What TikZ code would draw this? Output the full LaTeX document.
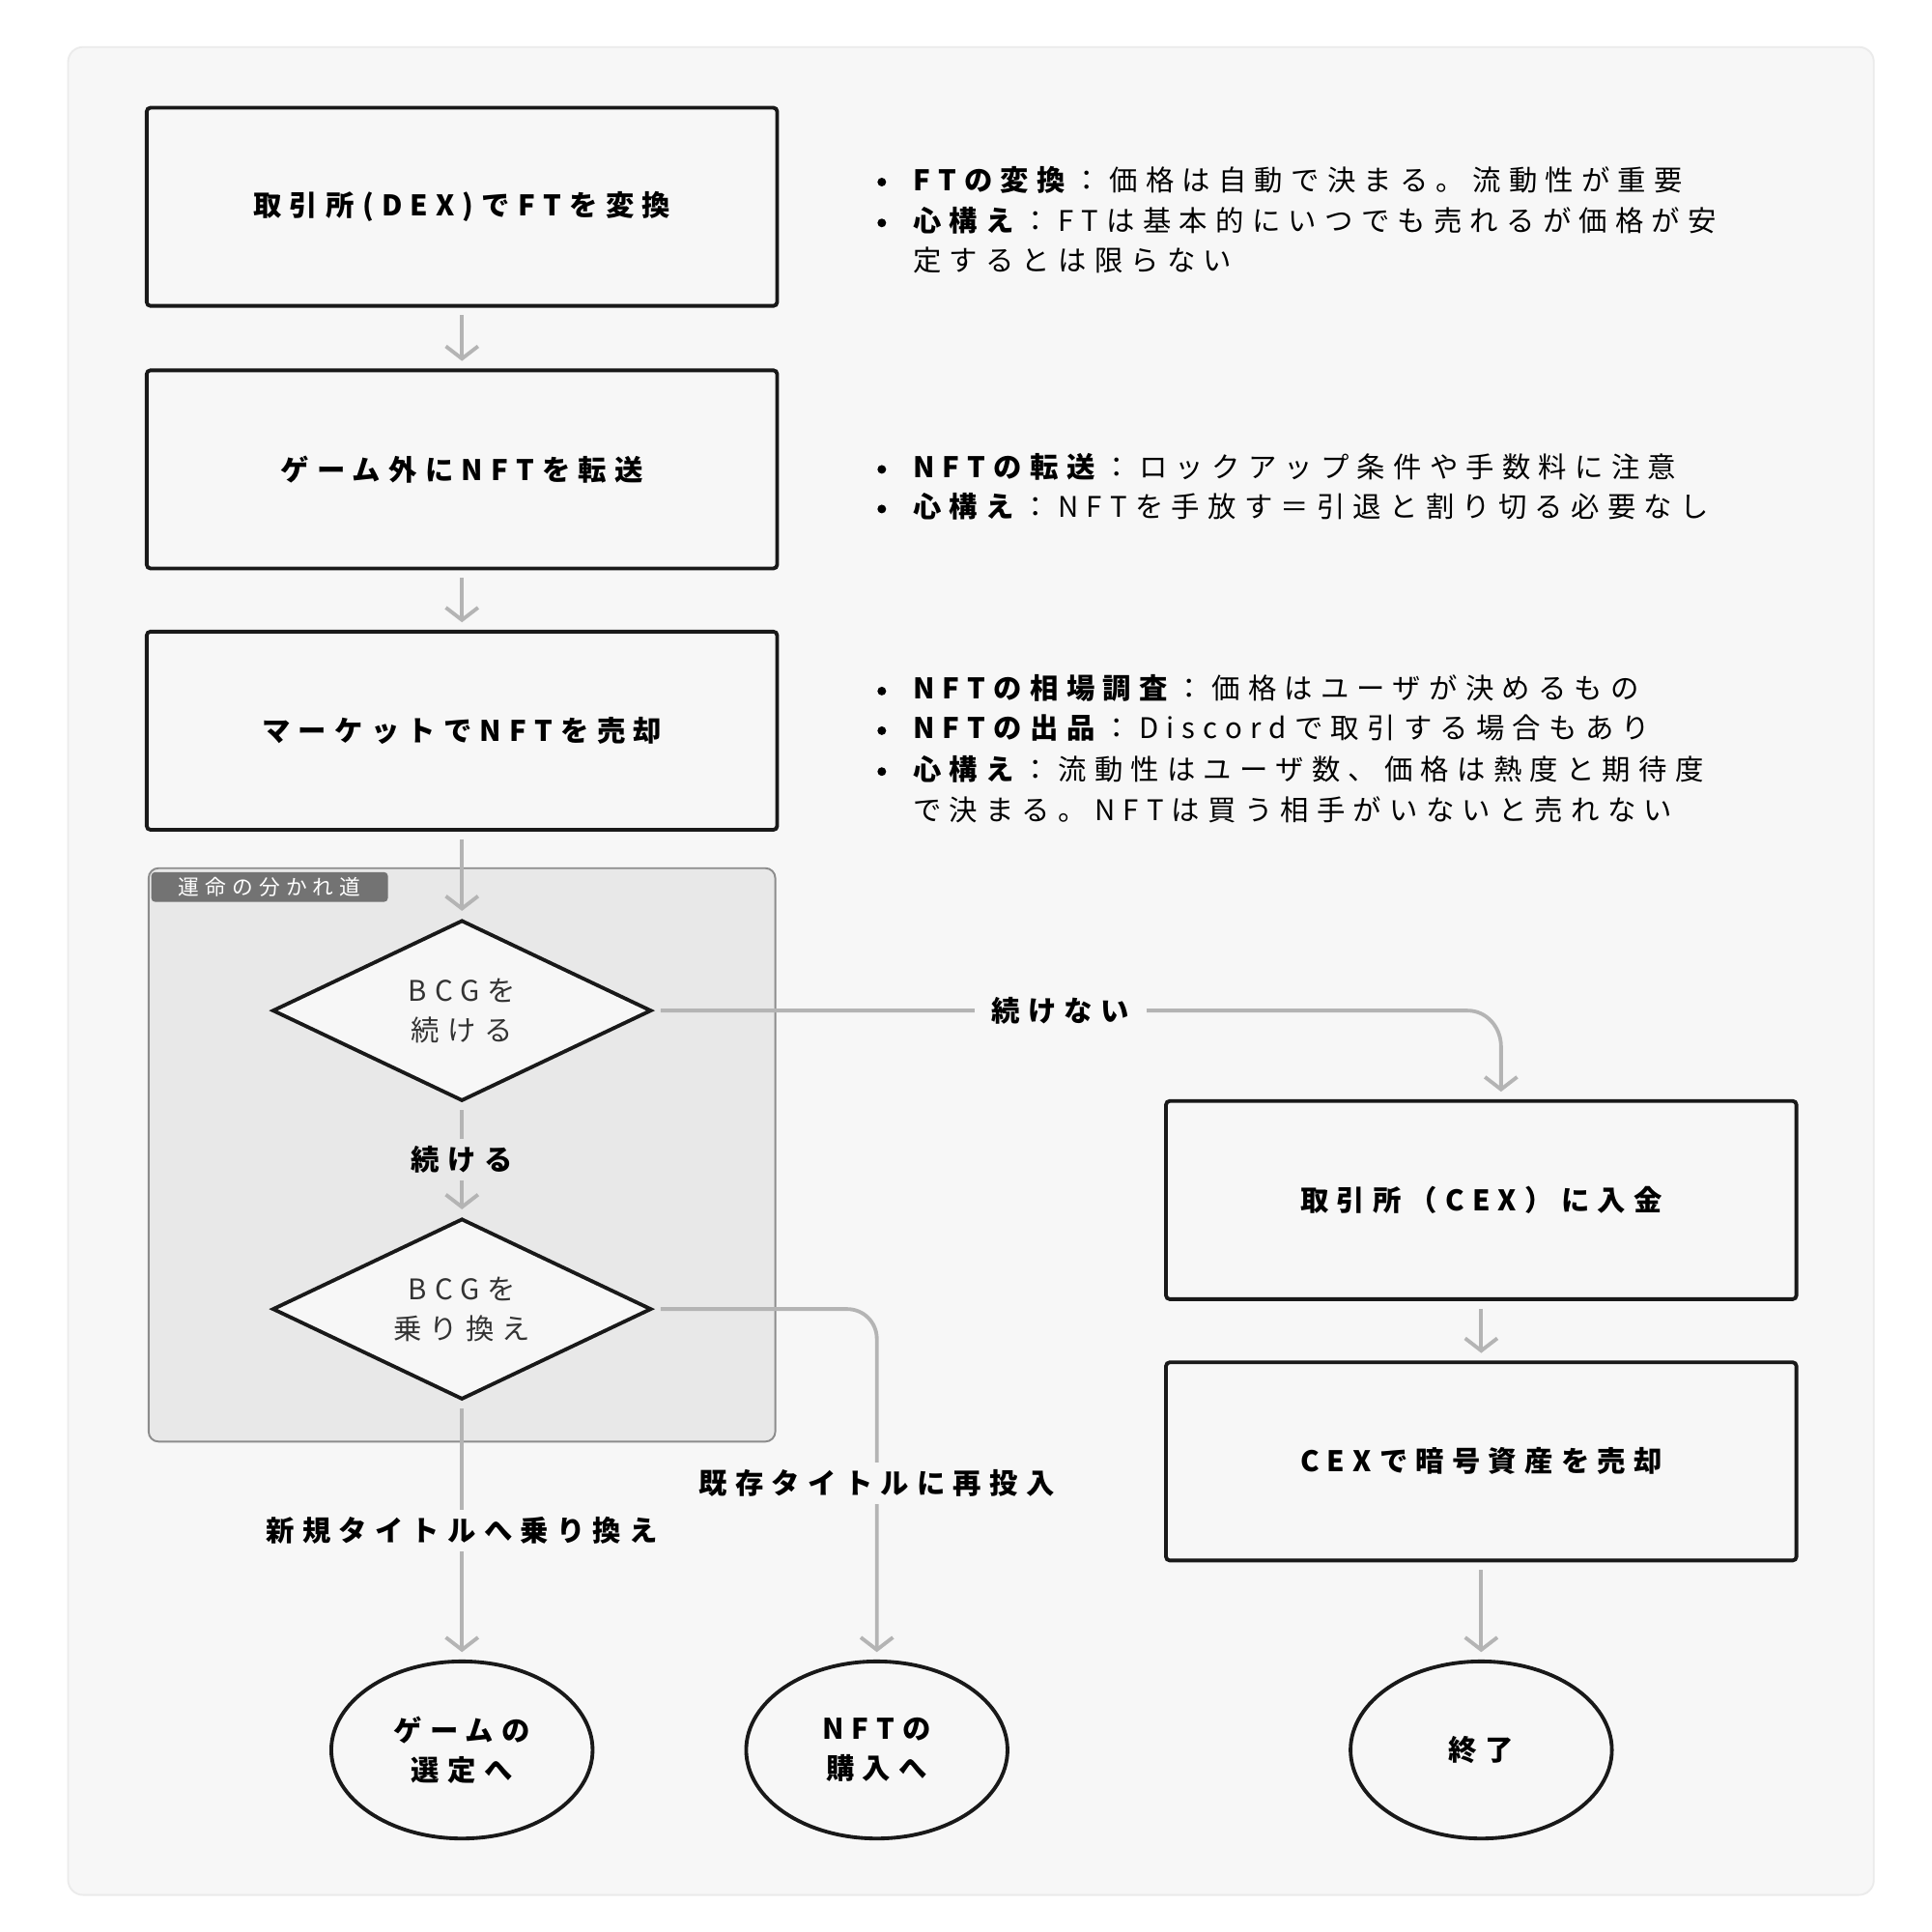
\documentclass[tikz,border=0pt]{standalone}
\usepackage{fontspec}
\setmainfont{Noto Sans CJK JP}[LetterSpace=28]
\usetikzlibrary{arrows.meta,shapes.geometric}
\definecolor{edge}{HTML}{B4B4B4}
\tikzset{
  box/.style={draw=black!90,line width=3bp,rounded corners=3bp,fill=white!97!black,minimum width=509bp,minimum height=160bp,font=\fontsize{23}{28}\selectfont\bfseries},
  dia/.style={diamond,draw=black!90,line width=3bp,fill=white!97!black,minimum width=306bp,minimum height=146bp,aspect=2.1,inner sep=0pt,font=\fontsize{23}{32}\selectfont,align=center,text=black!80},
  term/.style={ellipse,draw=black!90,line width=3bp,fill=white!97!black,minimum width=211bp,minimum height=143bp,inner sep=0pt,font=\fontsize{23}{32}\selectfont\bfseries,align=center},
  conn/.style={draw=edge,line width=3bp,-{Straight Barb[length=10bp,width=26bp,line width=3bp]},shorten >=6bp,shorten <=6bp},
  lab/.style={fill=white!97!black,font=\fontsize{23}{28}\selectfont\bfseries,inner sep=6bp},
  nl/.style={anchor=west,font=\fontsize{23}{28}\selectfont,inner sep=0pt},
  bul/.style={circle,fill=black,inner sep=0pt,minimum size=7bp}
}
\begin{document}
\begin{tikzpicture}[x=1bp,y=-1bp]
\useasboundingbox (0,0) rectangle (1560,1560);
\fill[white] (0,0) rectangle (1560,1560);
\draw[draw=black!8,fill=white!97!black,line width=1.5bp,rounded corners=12bp] (55,38) rectangle (1513,1530);
% group
\draw[draw=black!45,fill=black!9,line width=1.5bp,rounded corners=8bp] (120,701) rectangle (626,1164);
\node[fill=black!55,text=white,rounded corners=3bp,anchor=north west,minimum width=191bp,minimum height=24bp,inner sep=0pt,font=\fontsize{17}{20}\selectfont] (glab) at (122,704) {運命の分かれ道};
% boxes
\node[box] (b1) at (373,167) {取引所(DEX)でFTを変換};
\node[box] (b2) at (373,379) {ゲーム外にNFTを転送};
\node[box] (b3) at (373,590) {マーケットでNFTを売却};
\node[box] (b4) at (1196,969) {取引所（CEX）に入金};
\node[box] (b5) at (1196,1180) {CEXで暗号資産を売却};
\node[dia] (d1) at (373,816) {BCGを\\続ける};
\node[dia] (d2) at (373,1057) {BCGを\\乗り換え};
\node[term] (t1) at (373,1413) {ゲームの\\選定へ};
\node[term] (t2) at (708,1413) {NFTの\\購入へ};
\node[term] (t3) at (1196,1413) {終了};
% notes
\node[bul] (p1) at (712,147) {}; \node[nl] (l1) at (737,145) {\textbf{FTの変換}：価格は自動で決まる。流動性が重要};
\node[bul] (p2) at (712,180) {}; \node[nl] (l2) at (737,178) {\textbf{心構え}：FTは基本的にいつでも売れるが価格が安};
\node[nl] (l3) at (737,210) {定するとは限らない};
\node[bul] (p4) at (712,379) {}; \node[nl] (l4) at (737,377) {\textbf{NFTの転送}：ロックアップ条件や手数料に注意};
\node[bul] (p5) at (712,411) {}; \node[nl] (l5) at (737,409) {\textbf{心構え}：NFTを手放す＝引退と割り切る必要なし};
\node[bul] (p6) at (712,558) {}; \node[nl] (l6) at (737,556) {\textbf{NFTの相場調査}：価格はユーザが決めるもの};
\node[bul] (p7) at (712,590) {}; \node[nl] (l7) at (737,588) {\textbf{NFTの出品}：Discordで取引する場合もあり};
\node[bul] (p8) at (712,623) {}; \node[nl] (l8) at (737,621) {\textbf{心構え}：流動性はユーザ数、価格は熱度と期待度};
\node[nl] (l9) at (737,654) {で決まる。NFTは買う相手がいないと売れない};
% connectors
\draw[conn] (b1) -- (b2);
\draw[conn] (b2) -- (b3);
\draw[conn] (b3) -- (d1);
\draw[conn] (d1) -- node[lab,fill=black!9]{続ける} (d2);
\draw[conn] (d1.east) -- node[lab,pos=0.5,inner xsep=14bp]{続けない} (1185,816) to[out=0,in=90] (1212,845) -- (b4.north -| 1212,0);
\draw[conn] (d2) -- node[lab,pos=0.5]{新規タイトルへ乗り換え} (t1);
\draw[conn] (d2.east) -- (684,1057) to[out=0,in=90] (708,1081) -- node[lab,pos=0.45]{既存タイトルに再投入} (t2);
\draw[conn] (b4) -- (b5);
\draw[conn] (b5) -- (t3);
\end{tikzpicture}
\end{document}
